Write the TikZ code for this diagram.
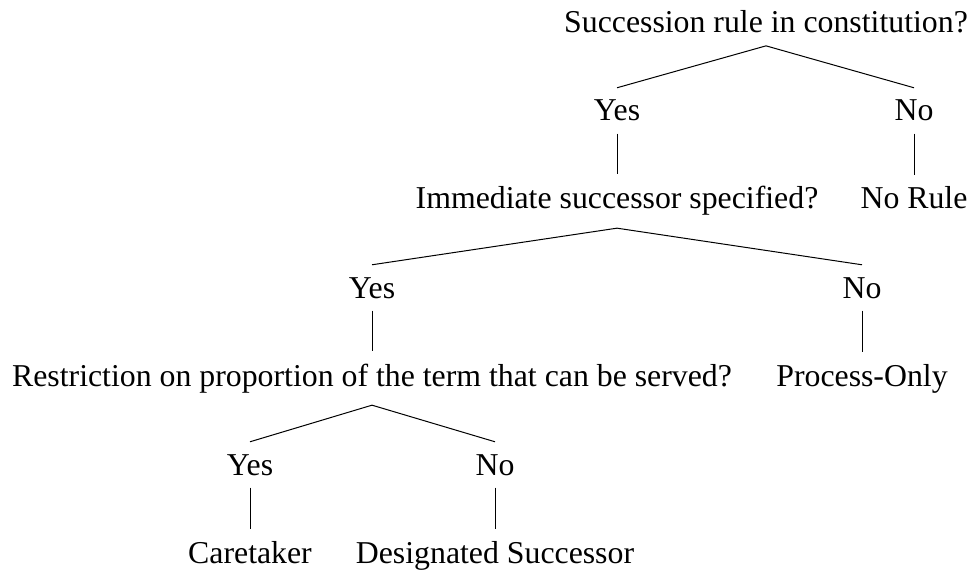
\documentclass[tikz,border=0pt]{standalone}
\usepackage{fontspec}
\setmainfont{Liberation Serif}
\usepackage{tikz}
\usetikzlibrary{positioning}

\begin{document}
\begin{tikzpicture}[
  x=0.5pt, y=-0.5pt,
  label/.style={inner xsep=2pt, inner ysep=6pt, anchor=base,
                font=\fontsize{15.9pt}{19pt}\selectfont},
  branch/.style={line width=0.5pt},
]
  \useasboundingbox (0,0) rectangle (973,572);

  % -- Level 1: constitution --
  \node[label] (rule) at (766,33) {Succession rule in constitution?};
  \node[label] (yesA) at (617,121) {Yes};
  \node[label] (noA) at (914,121) {No};

  % -- Level 2: successor --
  \node[label] (succ) at (617,209) {Immediate successor specified?};
  \node[label] (norule) at (914,209) {No Rule};
  \node[label] (yesB) at (372,298) {Yes};
  \node[label] (noB) at (862,298) {No};

  % -- Level 3: proportion of term --
  \node[label] (restr) at (372,386) {Restriction on proportion of the term that can be served?};
  \node[label] (process) at (862,386) {Process-Only};
  \node[label] (yesC) at (250,475) {Yes};
  \node[label] (noC) at (495,475) {No};

  % -- Leaves --
  \node[label] (care) at (250,563) {Caretaker};
  \node[label] (desig) at (495,563) {Designated Successor};

  % Branches
  \draw[branch] (rule.south) -- (yesA.north);
  \draw[branch] (rule.south) -- (noA.north);
  \draw[branch] (yesA.south) -- (succ.north);
  \draw[branch] (noA.south) -- (norule.north);
  \draw[branch] (succ.south) -- (yesB.north);
  \draw[branch] (succ.south) -- (noB.north);
  \draw[branch] (yesB.south) -- (restr.north);
  \draw[branch] (noB.south) -- (process.north);
  \draw[branch] (restr.south) -- (yesC.north);
  \draw[branch] (restr.south) -- (noC.north);
  \draw[branch] (yesC.south) -- (care.north);
  \draw[branch] (noC.south) -- (desig.north);

\end{tikzpicture}
\end{document}
